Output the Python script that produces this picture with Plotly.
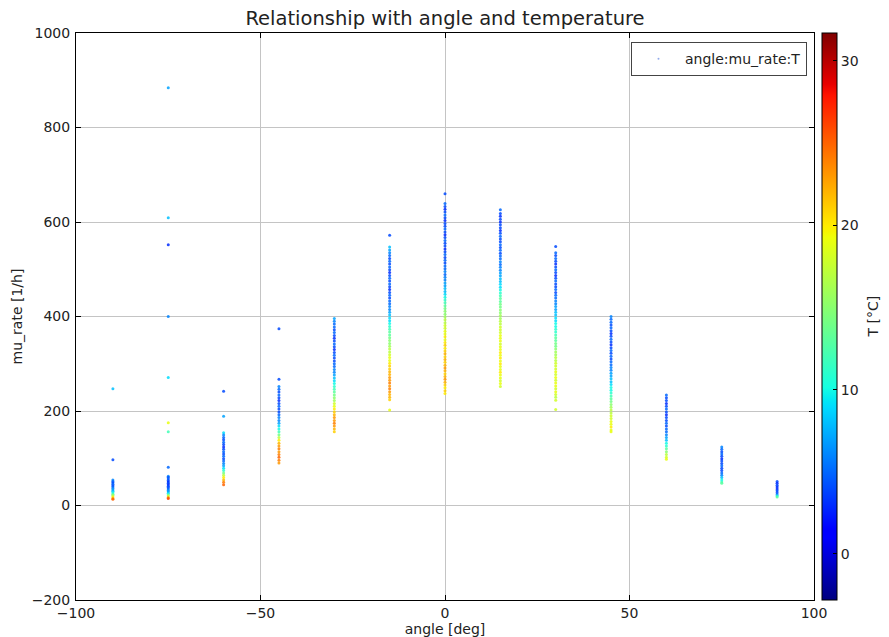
import plotly.graph_objects as go

# ---- data ----
angles = [-90, -75, -60, -45, -30, -15, 0, 15, 30, 45, 60, 75, 90]

mu_m90 = [247, 97, 54, 51, 48, 45, 42, 39, 36, 33, 30, 27, 24, 21, 18, 15, 13]
T_m90 = [8, 4, 6, 5, 4, 5, 4, 5, 6, 7, 8, 10, 13, 16, 20, 23, 25]

mu_m75 = [884, 609, 552, 400, 271, 175, 156, 81, 62, 59, 56, 53, 50, 47, 44, 41, 38, 35,
          32, 29, 26, 23, 20, 17, 15]
T_m75 = [7, 8, 3, 6, 9, 19, 12, 5, 6, 4, 5, 4, 3, 4, 3, 4, 4, 5, 6, 7, 9, 13, 18, 23, 26]

mu_m60 = [242, 189, 154, 149, 144, 139, 134, 129, 124, 119, 114, 109, 104, 99, 94, 89, 84,
          79, 74, 69, 64, 59, 54, 49, 44]
T_m60 = [4, 7, 9, 6, 5, 4, 5, 4, 3, 4, 5, 4, 5, 4, 5, 6, 7, 9, 11, 14, 17, 20, 22, 24, 25]

mu_m45 = [374, 267, 252, 246, 240, 234, 228, 222, 216, 210, 204, 198, 192, 186, 180, 174,
          168, 162, 156, 150, 144, 138, 132, 126, 120, 114, 108, 102, 96, 90]
T_m45 = [4, 4, 6, 5, 4, 5, 4, 3, 4, 5, 4, 4, 5, 6, 6, 7, 9, 10, 12, 14, 17, 20, 22, 23,
         24, 23, 24, 25, 24, 23]

mu_m30 = [396, 390, 384, 378, 372, 366, 360, 354, 348, 342, 336, 330, 324, 318, 312, 306,
          300, 294, 288, 282, 276, 270, 264, 258, 252, 246, 240, 234, 228, 222, 216, 210,
          204, 198, 192, 186, 180, 174, 168, 162, 156]
T_m30 = [7, 6, 5, 5, 4, 5, 4, 3, 4, 5, 4, 3, 4, 5, 4, 4, 5, 5, 6, 6, 7, 8, 9, 10, 11, 12,
         13, 14, 15, 16, 18, 19, 20, 21, 22, 23, 23, 24, 23, 22, 21]

mu_m15 = [572, 547, 541, 535, 529, 523, 517, 511, 505, 499, 493, 487, 481, 475, 469, 463,
          457, 451, 445, 439, 433, 427, 421, 415, 409, 403, 397, 391, 385, 379, 373, 367,
          361, 355, 349, 343, 337, 331, 325, 319, 313, 307, 301, 295, 289, 283, 277, 271,
          265, 259, 253, 247, 241, 235, 229, 224, 202]
T_m15 = [4, 8, 7, 6, 5, 4, 5, 4, 5, 4, 3, 4, 5, 4, 5, 4, 3, 4, 5, 4, 5, 5, 6, 6, 7, 8, 9,
         9, 10, 11, 12, 13, 13, 14, 15, 15, 16, 17, 17, 18, 19, 19, 20, 21, 21, 22, 22, 23,
         23, 24, 23, 24, 23, 22, 22, 21, 19]

mu_0 = [660, 639, 633, 627, 621, 615, 609, 603, 597, 591, 585, 579, 573, 567, 561, 555,
        549, 543, 537, 531, 525, 519, 513, 507, 501, 495, 489, 483, 477, 471, 465, 459,
        453, 447, 441, 435, 429, 423, 417, 411, 405, 399, 393, 387, 381, 375, 369, 363,
        357, 351, 345, 339, 333, 327, 321, 315, 309, 303, 297, 291, 285, 279, 273, 267,
        261, 255, 249, 243, 237]
T_0 = [4, 5, 4, 3, 4, 5, 4, 3, 4, 4, 5, 4, 3, 4, 5, 4, 4, 3, 4, 5, 4, 5, 4, 5, 5, 6, 5, 6,
       6, 7, 7, 8, 8, 9, 10, 11, 12, 13, 14, 15, 15, 16, 17, 17, 18, 18, 19, 19, 20, 19,
       20, 21, 20, 21, 22, 21, 22, 21, 22, 23, 22, 21, 22, 23, 22, 21, 20, 21, 20]

mu_p15 = [626, 618, 612, 606, 600, 594, 588, 582, 576, 570, 564, 558, 552, 546, 540, 534,
          528, 522, 516, 510, 504, 498, 492, 486, 480, 474, 468, 462, 456, 450, 444, 438,
          432, 426, 420, 414, 408, 402, 396, 390, 384, 378, 372, 366, 360, 354, 348, 342,
          336, 330, 324, 318, 312, 306, 300, 294, 288, 282, 276, 270, 264, 258, 252]
T_p15 = [5, 4, 3, 4, 3, 4, 4, 3, 4, 5, 4, 4, 5, 4, 5, 4, 5, 5, 6, 5, 6, 6, 7, 7, 8, 8, 9,
         9, 10, 11, 12, 13, 13, 14, 14, 15, 15, 16, 16, 17, 17, 18, 18, 18, 19, 19, 19, 18,
         19, 19, 20, 19, 20, 19, 20, 19, 19, 20, 19, 19, 18, 19, 18]

mu_p30 = [548, 535, 529, 523, 517, 511, 505, 499, 493, 487, 481, 475, 469, 463, 457, 451,
          445, 439, 433, 427, 421, 415, 409, 403, 397, 391, 385, 379, 373, 367, 361, 355,
          349, 343, 337, 331, 325, 319, 313, 307, 301, 295, 289, 283, 277, 271, 265, 259,
          253, 247, 241, 235, 229, 223, 203]
T_p30 = [4, 5, 4, 5, 4, 3, 4, 5, 4, 3, 4, 5, 4, 4, 5, 4, 5, 5, 6, 6, 7, 7, 8, 8, 9, 9, 10,
         10, 11, 11, 12, 13, 13, 14, 14, 15, 16, 16, 17, 17, 18, 18, 18, 19, 18, 19, 18, 19,
         19, 18, 19, 18, 17, 18, 18]

mu_p45 = [400, 394, 388, 382, 376, 370, 364, 358, 352, 346, 340, 334, 328, 322, 316, 310,
          304, 298, 292, 286, 280, 274, 268, 262, 256, 250, 244, 238, 232, 226, 220, 214,
          208, 202, 196, 190, 184, 178, 172, 166, 160, 156]
T_p45 = [6, 5, 5, 4, 5, 4, 3, 4, 5, 4, 3, 4, 5, 4, 5, 4, 5, 5, 6, 6, 7, 7, 8, 8, 9, 10,
         10, 11, 12, 13, 14, 15, 16, 17, 17, 18, 18, 19, 19, 20, 19, 19]

mu_p60 = [234, 228, 222, 216, 210, 204, 198, 192, 186, 180, 174, 168, 162, 156, 150, 144,
          138, 132, 126, 120, 114, 108, 102, 98]
T_p60 = [5, 4, 4, 3, 4, 5, 4, 3, 4, 4, 5, 4, 5, 5, 6, 7, 8, 10, 11, 13, 15, 17, 18, 19]

mu_p75 = [124, 119, 114, 109, 104, 99, 94, 89, 84, 79, 74, 69, 64, 59, 54, 50, 47]
T_p75 = [6, 5, 4, 5, 4, 3, 4, 4, 5, 4, 4, 5, 6, 8, 10, 12, 13]

mu_p90 = [51, 47, 43, 39, 35, 31, 27, 23, 20, 18]
T_p90 = [4, 3, 4, 3, 3, 4, 4, 6, 10, 13]

mu_cols = [mu_m90, mu_m75, mu_m60, mu_m45, mu_m30, mu_m15, mu_0,
           mu_p15, mu_p30, mu_p45, mu_p60, mu_p75, mu_p90]
T_cols = [T_m90, T_m75, T_m60, T_m45, T_m30, T_m15, T_0,
          T_p15, T_p30, T_p45, T_p60, T_p75, T_p90]

x_ticks = [-100, -50, 0, 50, 100]
y_ticks = [-200, 0, 200, 400, 600, 800, 1000]
cbar_ticks = [0, 10, 20, 30]
T_range = [-2.8, 31.7]

# ---- build flat arrays ----
xs, ys, cs = [], [], []
for a, mus, ts in zip(angles, mu_cols, T_cols):
    for m, t in zip(mus, ts):
        xs.append(a)
        ys.append(m)
        cs.append(t)

jet = [
    [0.0, "rgb(0,0,128)"], [0.11, "rgb(0,0,255)"], [0.125, "rgb(0,0,255)"],
    [0.34, "rgb(0,219,255)"], [0.35, "rgb(0,230,247)"], [0.375, "rgb(21,255,226)"],
    [0.64, "rgb(239,255,8)"], [0.65, "rgb(247,245,0)"], [0.66, "rgb(255,236,0)"],
    [0.89, "rgb(255,19,0)"], [0.91, "rgb(232,0,0)"], [1.0, "rgb(128,0,0)"],
]

font = "DejaVu Sans, Liberation Sans, sans-serif"
txt = "#222"

fig = go.Figure()
fig.add_trace(go.Scatter(
    x=xs, y=ys, mode="markers", showlegend=False,
    marker=dict(size=3, color=cs, colorscale=jet, cmin=T_range[0], cmax=T_range[1],
                opacity=0.85, line=dict(width=0),
                colorbar=dict(
                    x=1.011, xanchor="left", y=0.5, yanchor="middle", len=1.0,
                    lenmode="fraction", ypad=0, xpad=0,
                    thickness=15, thicknessmode="pixels",
                    outlinewidth=1, outlinecolor="black",
                    tickvals=cbar_ticks, ticks="inside", ticklen=4, tickcolor="black",
                    tickfont=dict(family=font, size=14, color=txt),
                )),
))
# legend entry
fig.add_trace(go.Scatter(
    x=[None], y=[None], mode="markers", name="angle:mu_rate:T",
    marker=dict(size=2, color="rgba(120,150,230,0.8)"),
))

# colorbar label
fig.add_annotation(text="T [°C]", xref="paper", yref="paper", x=1.0786, y=0.5,
                   xanchor="center", yanchor="middle", textangle=-90, showarrow=False,
                   font=dict(family=font, size=14, color=txt))

axis_common = dict(
    showline=True, linecolor="black", linewidth=1, mirror="ticks",
    ticks="inside", ticklen=5, tickcolor="black", automargin=False,
    showgrid=True, gridcolor="#c4c4c4", gridwidth=1, zeroline=False,
    tickfont=dict(family=font, size=14, color=txt),
)

fig.update_layout(
    width=889, height=637,
    margin=dict(l=76, r=75, t=33, b=37, autoexpand=False),
    paper_bgcolor="white", plot_bgcolor="white",
    title=dict(text="Relationship with angle and temperature", x=0.5, xref="paper",
               y=1 - 18 / 637, yanchor="middle", automargin=False,
               font=dict(family=font, size=19.5, color=txt)),
    xaxis=dict(range=[-100, 100], tickvals=x_ticks, ticklabelstandoff=0,
               title=dict(text="angle [deg]", standoff=2,
                          font=dict(family=font, size=14, color=txt)),
               **axis_common),
    yaxis=dict(range=[-200, 1000], tickvals=y_ticks, ticklabelstandoff=2,
               title=dict(text="mu_rate [1/h]", standoff=5,
                          font=dict(family=font, size=14, color=txt)),
               **axis_common),
    legend=dict(x=0.9905, xanchor="right", y=0.984, yanchor="top",
                bgcolor="white", bordercolor="#444", borderwidth=1,
                font=dict(family=font, size=14, color=txt),
                itemwidth=43, tracegroupgap=0),
    showlegend=True,
)

fig.write_html("out.html", config={"displayModeBar": False},
               post_script="document.body.style.margin='0';document.body.style.padding='0';")
